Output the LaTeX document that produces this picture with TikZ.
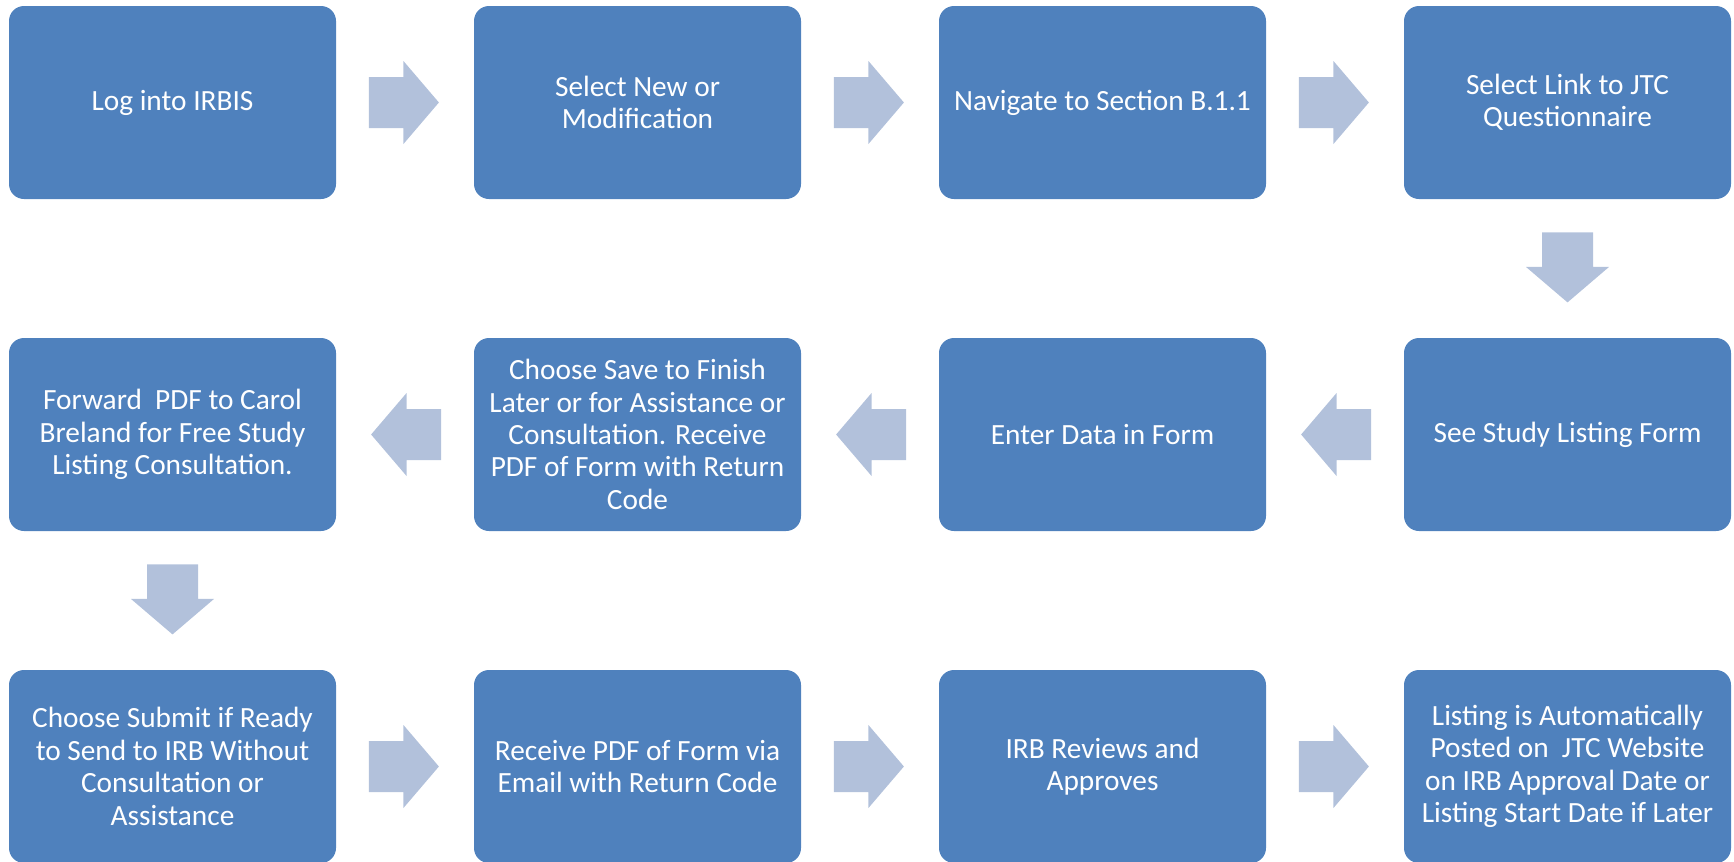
\documentclass[tikz,border=0pt]{standalone}
\usepackage{fontspec}
\setmainfont{Carlito}
\usetikzlibrary{shapes.arrows}

\definecolor{boxblue}{RGB}{79,129,189}
\definecolor{arrowblue}{RGB}{178,193,219}

\tikzset{every picture/.style={line width=0.75pt}}
\tikzset{
  stepbox/.style={rectangle, rounded corners=11.25pt, fill=boxblue, text=white,
    minimum width=245.25pt, minimum height=144.75pt, align=center, inner sep=0pt,
    font=\fontsize{22pt}{24.3pt}\selectfont},
  flowarrow/.style={single arrow, fill=arrowblue, draw=none, minimum height=52.5pt,
    single arrow head extend=12pt, single arrow tip angle=99, inner xsep=0pt, inner ysep=18.75pt},
  arrowat/.style={midway, rotate=#1, xshift=-9pt}
}

\begin{document}
\begin{tikzpicture}[x=0.75pt,y=0.75pt,yscale=-1,xscale=1]
\useasboundingbox (0,0) rectangle (1734,861);

% Rounded Rect, first row
\node [stepbox] (login) at (172.5,102.5) {Log into IRBIS};
\node [stepbox] (select) at (637.5,102.5) {Select New or\\Modification};
\node [stepbox] (navigate) at (1102.5,102.5) {Navigate to Section B.1.1};
\node [stepbox] (link) at (1567.5,102.5) {Select Link to JTC\\Questionnaire};

% Rounded Rect, second row
\node [stepbox] (seeform) at (1567.5,434.5) {See Study Listing Form};
\node [stepbox] (enter) at (1102.5,434.5) {Enter Data in Form};
\node [stepbox] (save) at (637.5,434.5) {Choose Save to Finish\\Later or for Assistance or\\Consultation. Receive\\PDF of Form with Return\\Code};
\node [stepbox] (forward) at (172.5,434.5) {Forward\ \ PDF to Carol\\Breland for Free Study\\Listing Consultation.};

% Rounded Rect, third row
\node [stepbox] (submit) at (172.5,766.5) {Choose Submit if Ready\\to Send to IRB Without\\Consultation or\\Assistance};
\node [stepbox] (receive) at (637.5,766.5) {Receive PDF of Form via\\Email with Return Code};
\node [stepbox] (review) at (1102.5,766.5) {IRB Reviews and\\Approves};
\node [stepbox] (posted) at (1567.5,766.5) {Listing is Automatically\\Posted on\ \ JTC Website\\on IRB Approval Date or\\Listing Start Date if Later};

% Block Arrows
\path (login) -- (select) node [flowarrow, arrowat=0] (a1) {};
\path (select) -- (navigate) node [flowarrow, arrowat=0] (a2) {};
\path (navigate) -- (link) node [flowarrow, arrowat=0] (a3) {};
\path (link) -- (seeform) node [flowarrow, arrowat=-90] (a4) {};
\path (seeform) -- (enter) node [flowarrow, arrowat=180] (a5) {};
\path (enter) -- (save) node [flowarrow, arrowat=180] (a6) {};
\path (save) -- (forward) node [flowarrow, arrowat=180] (a7) {};
\path (forward) -- (submit) node [flowarrow, arrowat=-90] (a8) {};
\path (submit) -- (receive) node [flowarrow, arrowat=0] (a9) {};
\path (receive) -- (review) node [flowarrow, arrowat=0] (a10) {};
\path (review) -- (posted) node [flowarrow, arrowat=0] (a11) {};

\end{tikzpicture}
\end{document}
